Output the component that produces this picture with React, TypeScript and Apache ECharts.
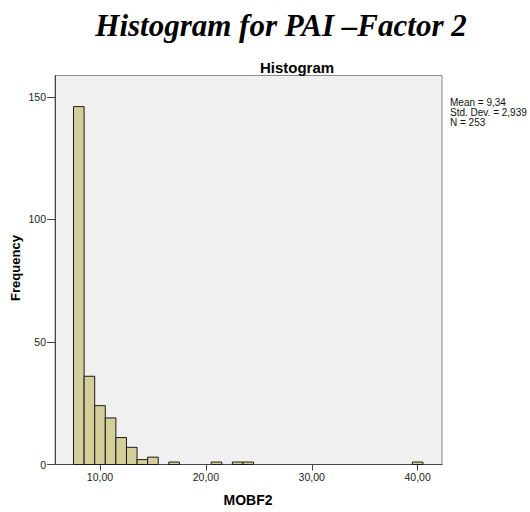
import React, { useEffect, useRef } from "react";
import * as echarts from "echarts";

const binCenters = [8, 9, 10, 11, 12, 13, 14, 15, 17, 21, 23, 24, 40];
const frequencies = [146, 36, 24, 19, 11, 7, 2, 3, 1, 1, 1, 1, 1];
const xTicks = [10, 20, 30, 40];
const yTicks = [0, 50, 100, 150];
const statsLines = ["Mean = 9,34", "Std. Dev. = 2,939", "N = 253"];
const binWidth = 1;

export default function App() {
  const ref = useRef<HTMLDivElement>(null);
  useEffect(() => {
    document.body.style.margin = "0";
    const chart = echarts.init(ref.current!, null, { renderer: "svg" });
    const data = binCenters.map((c, i) => [c, frequencies[i]]);
    chart.setOption({
      animation: false,
      backgroundColor: "#ffffff",
      title: [
        {
          text: "Histogram for PAI \u2013Factor 2",
          left: 276,
          top: 5,
          textAlign: "center",
          textStyle: {
            fontFamily: "Liberation Serif",
            fontStyle: "italic",
            fontWeight: "bold",
            fontSize: 31,
            color: "#000",
          },
        },
        {
          text: "Histogram",
          left: 292,
          top: 55,
          textAlign: "center",
          textStyle: {
            fontFamily: "Liberation Sans",
            fontWeight: "bold",
            fontSize: 15,
            color: "#000",
          },
        },
      ],
      grid: {
        left: 55,
        right: 88,
        top: 75.5,
        bottom: 47.5,
        show: true,
        backgroundColor: "#F0F0F0",
        borderColor: "#8a8a8a",
        borderWidth: 1,
        outerBoundsMode: "none",
      },
      xAxis: {
        type: "value",
        min: 5.75,
        max: 42.3,
        splitLine: { show: false },
        axisLine: { show: true, onZero: false, lineStyle: { color: "#444", width: 1 } },
        axisTick: { show: true, length: 6, customValues: xTicks, lineStyle: { color: "#444" } },
        axisLabel: {
          customValues: xTicks,
          margin: 7,
          fontFamily: "Liberation Sans",
          fontSize: 10.5,
          color: "#222",
          formatter: (v: number) => v.toFixed(2).replace(".", ","),
        },
      },
      yAxis: {
        type: "value",
        min: 0,
        max: 158.7,
        splitLine: { show: false },
        axisLine: { show: true, onZero: false, lineStyle: { color: "#444", width: 1 } },
        axisTick: { show: true, length: 8, customValues: yTicks, lineStyle: { color: "#444" } },
        axisLabel: {
          customValues: yTicks,
          margin: 9,
          fontFamily: "Liberation Sans",
          fontSize: 10.5,
          color: "#222",
        },
      },
      series: [
        {
          type: "custom",
          data,
          renderItem: (params: any, api: any) => {
            const x = api.value(0);
            const y = api.value(1);
            const p0 = api.coord([x - binWidth / 2, y]);
            const p1 = api.coord([x + binWidth / 2, 0]);
            return {
              type: "rect",
              shape: { x: p0[0], y: p0[1], width: p1[0] - p0[0], height: p1[1] - p0[1] },
              style: { fill: "#D4CF98", stroke: "#1a1a1a", lineWidth: 1 },
            };
          },
        },
      ],
      graphic: [
        {
          type: "text",
          x: 15.5,
          y: 268,
          rotation: Math.PI / 2,
          style: {
            text: "Frequency",
            fontFamily: "Liberation Sans",
            fontWeight: "bold",
            fontSize: 13,
            fill: "#000",
            align: "center",
            verticalAlign: "middle",
          },
        },
        {
          type: "text",
          x: 248,
          y: 500,
          style: {
            text: "MOBF2",
            fontFamily: "Liberation Sans",
            fontWeight: "bold",
            fontSize: 14,
            fill: "#000",
            align: "center",
            verticalAlign: "middle",
          },
        },
        {
          type: "text",
          x: 450,
          y: 97,
          style: {
            text: statsLines.join("\n"),
            fontFamily: "Liberation Sans",
            fontSize: 10,
            lineHeight: 10,
            fill: "#111",
            align: "left",
            verticalAlign: "top",
          },
        },
      ],
    });
    return () => chart.dispose();
  }, []);
  return (
    <div
      ref={ref}
      style={{ position: "absolute", left: 0, top: 0, width: 530, height: 512 }}
    />
  );
}
